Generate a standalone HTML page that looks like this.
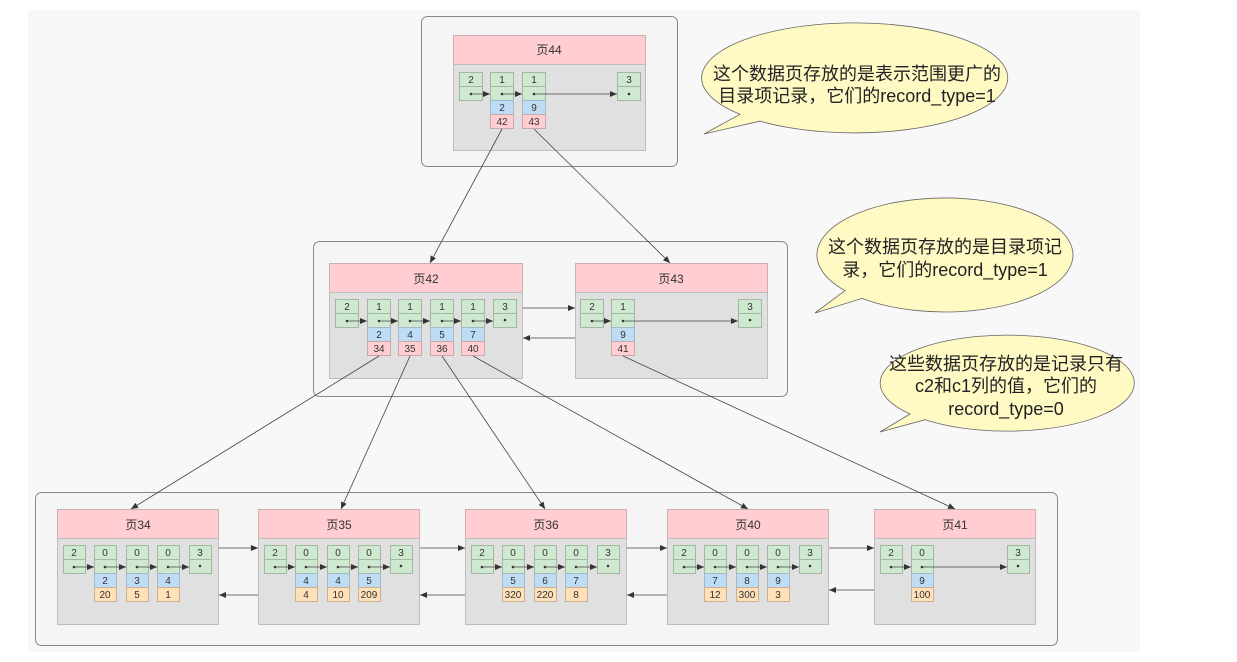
<!DOCTYPE html>
<html><head><meta charset="utf-8"><style>
html,body{margin:0;padding:0;background:#fff;}
svg{display:block;font-family:"Liberation Sans","Noto Sans CJK SC",sans-serif;}
.g{fill:#cfe8d0;stroke:#a3b8a3;stroke-width:1}
.b{fill:#bfdcf5;stroke:#a3b8c8;stroke-width:1}
.p{fill:#ffcdd2;stroke:#c8a8a8;stroke-width:1}
.o{fill:#ffe0b8;stroke:#c8b090;stroke-width:1}
.hd{fill:#ffcdd2;stroke:#c8b0b0;stroke-width:1}
.bd{fill:#e0e0e0;stroke:#bdbdbd;stroke-width:1}
.ct{fill:#f5f5f5;stroke:#888;stroke-width:1}
.t{font-size:10px;fill:#333;text-anchor:middle}
.h{font-size:12px;fill:#333;text-anchor:middle}
.l{stroke:#444;stroke-width:0.8;fill:none}
.bt{font-size:18px;fill:#222;text-anchor:middle}
</style></head><body>
<svg width="1237" height="662" viewBox="0 0 1237 662" xmlns="http://www.w3.org/2000/svg">
<defs>
<marker id="a" markerWidth="8" markerHeight="6" refX="7" refY="3" orient="auto" markerUnits="userSpaceOnUse"><path d="M0,0 L7,3 L0,6 z" fill="#333"/></marker>
</defs>
<rect x="28" y="10" width="1112" height="642" fill="#f8f8f8"/>

<rect class="ct" x="421.5" y="16.5" width="256" height="150" rx="6"/>
<rect class="ct" x="313.5" y="241.5" width="474" height="155" rx="6"/>
<rect class="ct" x="35.5" y="492.5" width="1022" height="153" rx="6"/>

<!-- Page 44 -->
<rect class="hd" x="453.5" y="35.5" width="192" height="29"/><text class="h" x="549" y="54">页44</text>
<rect class="bd" x="453.5" y="64.5" width="192" height="86"/>
<g>
<rect class="g" x="459.5" y="72.5" width="23" height="14"/><rect class="g" x="459.5" y="86.5" width="23" height="14"/><text class="t" x="471" y="83">2</text>
<rect class="g" x="490.5" y="72.5" width="23" height="14"/><rect class="g" x="490.5" y="86.5" width="23" height="14"/><text class="t" x="502" y="83">1</text>
<rect class="b" x="490.5" y="100.5" width="23" height="14"/><text class="t" x="502" y="111">2</text>
<rect class="p" x="490.5" y="114.5" width="23" height="14"/><text class="t" x="502" y="125">42</text>
<rect class="g" x="522.5" y="72.5" width="23" height="14"/><rect class="g" x="522.5" y="86.5" width="23" height="14"/><text class="t" x="534" y="83">1</text>
<rect class="b" x="522.5" y="100.5" width="23" height="14"/><text class="t" x="534" y="111">9</text>
<rect class="p" x="522.5" y="114.5" width="23" height="14"/><text class="t" x="534" y="125">43</text>
<rect class="g" x="617.5" y="72.5" width="23" height="14"/><rect class="g" x="617.5" y="86.5" width="23" height="14"/><text class="t" x="629" y="83">3</text>
<circle cx="471" cy="94" r="1.3" fill="#333"/><circle cx="502" cy="94" r="1.3" fill="#333"/><circle cx="534" cy="94" r="1.3" fill="#333"/><circle cx="629" cy="94" r="1.3" fill="#333"/>
<line class="l" x1="471" y1="94" x2="490" y2="94" marker-end="url(#a)"/>
<line class="l" x1="502" y1="94" x2="522" y2="94" marker-end="url(#a)"/>
<line class="l" x1="534" y1="94" x2="617" y2="94" marker-end="url(#a)"/>
</g>

<!-- Page 42 -->
<rect class="hd" x="329.5" y="263.5" width="193" height="29"/><text class="h" x="426" y="283">页42</text>
<rect class="bd" x="329.5" y="292.5" width="193" height="86"/>
<g>
<rect class="g" x="335.5" y="299.5" width="23" height="14"/><rect class="g" x="335.5" y="313.5" width="23" height="14"/><text class="t" x="347" y="310">2</text>
<rect class="g" x="367.5" y="299.5" width="23" height="14"/><rect class="g" x="367.5" y="313.5" width="23" height="14"/><text class="t" x="379" y="310">1</text>
<rect class="b" x="367.5" y="327.5" width="23" height="14"/><text class="t" x="379" y="338">2</text>
<rect class="p" x="367.5" y="341.5" width="23" height="14"/><text class="t" x="379" y="352">34</text>
<rect class="g" x="398.5" y="299.5" width="23" height="14"/><rect class="g" x="398.5" y="313.5" width="23" height="14"/><text class="t" x="410" y="310">1</text>
<rect class="b" x="398.5" y="327.5" width="23" height="14"/><text class="t" x="410" y="338">4</text>
<rect class="p" x="398.5" y="341.5" width="23" height="14"/><text class="t" x="410" y="352">35</text>
<rect class="g" x="430.5" y="299.5" width="23" height="14"/><rect class="g" x="430.5" y="313.5" width="23" height="14"/><text class="t" x="442" y="310">1</text>
<rect class="b" x="430.5" y="327.5" width="23" height="14"/><text class="t" x="442" y="338">5</text>
<rect class="p" x="430.5" y="341.5" width="23" height="14"/><text class="t" x="442" y="352">36</text>
<rect class="g" x="461.5" y="299.5" width="23" height="14"/><rect class="g" x="461.5" y="313.5" width="23" height="14"/><text class="t" x="473" y="310">1</text>
<rect class="b" x="461.5" y="327.5" width="23" height="14"/><text class="t" x="473" y="338">7</text>
<rect class="p" x="461.5" y="341.5" width="23" height="14"/><text class="t" x="473" y="352">40</text>
<rect class="g" x="493.5" y="299.5" width="23" height="14"/><rect class="g" x="493.5" y="313.5" width="23" height="14"/><text class="t" x="505" y="310">3</text>
<g fill="#333"><circle cx="347" cy="321" r="1.3"/><circle cx="379" cy="321" r="1.3"/><circle cx="410" cy="321" r="1.3"/><circle cx="442" cy="321" r="1.3"/><circle cx="473" cy="321" r="1.3"/><circle cx="505" cy="320" r="1.3"/></g>
<line class="l" x1="347" y1="321" x2="367" y2="321" marker-end="url(#a)"/>
<line class="l" x1="379" y1="321" x2="398" y2="321" marker-end="url(#a)"/>
<line class="l" x1="410" y1="321" x2="430" y2="321" marker-end="url(#a)"/>
<line class="l" x1="442" y1="321" x2="461" y2="321" marker-end="url(#a)"/>
<line class="l" x1="473" y1="321" x2="493" y2="321" marker-end="url(#a)"/>
</g>

<!-- Page 43 -->
<rect class="hd" x="575.5" y="263.5" width="192" height="29"/><text class="h" x="671" y="283">页43</text>
<rect class="bd" x="575.5" y="292.5" width="192" height="86"/>
<rect class="g" x="580.5" y="299.5" width="23" height="14"/><rect class="g" x="580.5" y="313.5" width="23" height="14"/><text class="t" x="592" y="310">2</text>
<rect class="g" x="611.5" y="299.5" width="23" height="14"/><rect class="g" x="611.5" y="313.5" width="23" height="14"/><text class="t" x="623" y="310">1</text>
<rect class="b" x="611.5" y="327.5" width="23" height="14"/><text class="t" x="623" y="338">9</text>
<rect class="p" x="611.5" y="341.5" width="23" height="14"/><text class="t" x="623" y="352">41</text>
<rect class="g" x="738.5" y="299.5" width="23" height="14"/><rect class="g" x="738.5" y="313.5" width="23" height="14"/><text class="t" x="750" y="310">3</text>
<g fill="#333"><circle cx="592" cy="321" r="1.3"/><circle cx="623" cy="321" r="1.3"/><circle cx="750" cy="320" r="1.3"/></g>
<line class="l" x1="592" y1="321" x2="611" y2="321" marker-end="url(#a)"/>
<line class="l" x1="623" y1="321" x2="738" y2="321" marker-end="url(#a)"/>

<line class="l" x1="523" y1="308" x2="575" y2="308" marker-end="url(#a)"/>
<line class="l" x1="575" y1="338" x2="523" y2="338" marker-end="url(#a)"/>

<!-- Page 34 -->
<rect class="hd" x="57.5" y="509.5" width="161" height="29"/><text class="h" x="138" y="529">页34</text>
<rect class="bd" x="57.5" y="538.5" width="161" height="86"/>
<rect class="g" x="63.5" y="545.5" width="22" height="14"/><rect class="g" x="63.5" y="559.5" width="22" height="14"/><text class="t" x="74" y="556">2</text>
<rect class="g" x="94.5" y="545.5" width="22" height="14"/><rect class="g" x="94.5" y="559.5" width="22" height="14"/><text class="t" x="105" y="556">0</text>
<rect class="b" x="94.5" y="573.5" width="22" height="14"/><text class="t" x="105" y="584">2</text>
<rect class="o" x="94.5" y="587.5" width="22" height="14"/><text class="t" x="105" y="598">20</text>
<rect class="g" x="126.5" y="545.5" width="22" height="14"/><rect class="g" x="126.5" y="559.5" width="22" height="14"/><text class="t" x="137" y="556">0</text>
<rect class="b" x="126.5" y="573.5" width="22" height="14"/><text class="t" x="137" y="584">3</text>
<rect class="o" x="126.5" y="587.5" width="22" height="14"/><text class="t" x="137" y="598">5</text>
<rect class="g" x="157.5" y="545.5" width="22" height="14"/><rect class="g" x="157.5" y="559.5" width="22" height="14"/><text class="t" x="168" y="556">0</text>
<rect class="b" x="157.5" y="573.5" width="22" height="14"/><text class="t" x="168" y="584">4</text>
<rect class="o" x="157.5" y="587.5" width="22" height="14"/><text class="t" x="168" y="598">1</text>
<rect class="g" x="189.5" y="545.5" width="22" height="14"/><rect class="g" x="189.5" y="559.5" width="22" height="14"/><text class="t" x="200" y="556">3</text>
<g fill="#333"><circle cx="74" cy="567" r="1.3"/><circle cx="105" cy="567" r="1.3"/><circle cx="137" cy="567" r="1.3"/><circle cx="168" cy="567" r="1.3"/><circle cx="200" cy="566" r="1.3"/></g>
<line class="l" x1="74" y1="567" x2="94" y2="567" marker-end="url(#a)"/><line class="l" x1="105" y1="567" x2="126" y2="567" marker-end="url(#a)"/><line class="l" x1="137" y1="567" x2="157" y2="567" marker-end="url(#a)"/><line class="l" x1="168" y1="567" x2="189" y2="567" marker-end="url(#a)"/>

<!-- Page 35 -->
<rect class="hd" x="258.5" y="509.5" width="161" height="29"/><text class="h" x="339" y="529">页35</text>
<rect class="bd" x="258.5" y="538.5" width="161" height="86"/>
<rect class="g" x="264.5" y="545.5" width="22" height="14"/><rect class="g" x="264.5" y="559.5" width="22" height="14"/><text class="t" x="275" y="556">2</text>
<rect class="g" x="295.5" y="545.5" width="22" height="14"/><rect class="g" x="295.5" y="559.5" width="22" height="14"/><text class="t" x="306" y="556">0</text>
<rect class="b" x="295.5" y="573.5" width="22" height="14"/><text class="t" x="306" y="584">4</text>
<rect class="o" x="295.5" y="587.5" width="22" height="14"/><text class="t" x="306" y="598">4</text>
<rect class="g" x="327.5" y="545.5" width="22" height="14"/><rect class="g" x="327.5" y="559.5" width="22" height="14"/><text class="t" x="338" y="556">0</text>
<rect class="b" x="327.5" y="573.5" width="22" height="14"/><text class="t" x="338" y="584">4</text>
<rect class="o" x="327.5" y="587.5" width="22" height="14"/><text class="t" x="338" y="598">10</text>
<rect class="g" x="358.5" y="545.5" width="22" height="14"/><rect class="g" x="358.5" y="559.5" width="22" height="14"/><text class="t" x="369" y="556">0</text>
<rect class="b" x="358.5" y="573.5" width="22" height="14"/><text class="t" x="369" y="584">5</text>
<rect class="o" x="358.5" y="587.5" width="22" height="14"/><text class="t" x="369" y="598">209</text>
<rect class="g" x="390.5" y="545.5" width="22" height="14"/><rect class="g" x="390.5" y="559.5" width="22" height="14"/><text class="t" x="401" y="556">3</text>
<g fill="#333"><circle cx="275" cy="567" r="1.3"/><circle cx="306" cy="567" r="1.3"/><circle cx="338" cy="567" r="1.3"/><circle cx="369" cy="567" r="1.3"/><circle cx="401" cy="566" r="1.3"/></g>
<line class="l" x1="275" y1="567" x2="295" y2="567" marker-end="url(#a)"/><line class="l" x1="306" y1="567" x2="327" y2="567" marker-end="url(#a)"/><line class="l" x1="338" y1="567" x2="358" y2="567" marker-end="url(#a)"/><line class="l" x1="369" y1="567" x2="390" y2="567" marker-end="url(#a)"/>

<!-- Page 36 -->
<rect class="hd" x="465.5" y="509.5" width="161" height="29"/><text class="h" x="546" y="529">页36</text>
<rect class="bd" x="465.5" y="538.5" width="161" height="86"/>
<rect class="g" x="471.5" y="545.5" width="22" height="14"/><rect class="g" x="471.5" y="559.5" width="22" height="14"/><text class="t" x="482" y="556">2</text>
<rect class="g" x="502.5" y="545.5" width="22" height="14"/><rect class="g" x="502.5" y="559.5" width="22" height="14"/><text class="t" x="513" y="556">0</text>
<rect class="b" x="502.5" y="573.5" width="22" height="14"/><text class="t" x="513" y="584">5</text>
<rect class="o" x="502.5" y="587.5" width="22" height="14"/><text class="t" x="513" y="598">320</text>
<rect class="g" x="534.5" y="545.5" width="22" height="14"/><rect class="g" x="534.5" y="559.5" width="22" height="14"/><text class="t" x="545" y="556">0</text>
<rect class="b" x="534.5" y="573.5" width="22" height="14"/><text class="t" x="545" y="584">6</text>
<rect class="o" x="534.5" y="587.5" width="22" height="14"/><text class="t" x="545" y="598">220</text>
<rect class="g" x="565.5" y="545.5" width="22" height="14"/><rect class="g" x="565.5" y="559.5" width="22" height="14"/><text class="t" x="576" y="556">0</text>
<rect class="b" x="565.5" y="573.5" width="22" height="14"/><text class="t" x="576" y="584">7</text>
<rect class="o" x="565.5" y="587.5" width="22" height="14"/><text class="t" x="576" y="598">8</text>
<rect class="g" x="597.5" y="545.5" width="22" height="14"/><rect class="g" x="597.5" y="559.5" width="22" height="14"/><text class="t" x="608" y="556">3</text>
<g fill="#333"><circle cx="482" cy="567" r="1.3"/><circle cx="513" cy="567" r="1.3"/><circle cx="545" cy="567" r="1.3"/><circle cx="576" cy="567" r="1.3"/><circle cx="608" cy="566" r="1.3"/></g>
<line class="l" x1="482" y1="567" x2="502" y2="567" marker-end="url(#a)"/><line class="l" x1="513" y1="567" x2="534" y2="567" marker-end="url(#a)"/><line class="l" x1="545" y1="567" x2="565" y2="567" marker-end="url(#a)"/><line class="l" x1="576" y1="567" x2="597" y2="567" marker-end="url(#a)"/>

<!-- Page 40 -->
<rect class="hd" x="667.5" y="509.5" width="161" height="29"/><text class="h" x="748" y="529">页40</text>
<rect class="bd" x="667.5" y="538.5" width="161" height="86"/>
<rect class="g" x="673.5" y="545.5" width="22" height="14"/><rect class="g" x="673.5" y="559.5" width="22" height="14"/><text class="t" x="684" y="556">2</text>
<rect class="g" x="704.5" y="545.5" width="22" height="14"/><rect class="g" x="704.5" y="559.5" width="22" height="14"/><text class="t" x="715" y="556">0</text>
<rect class="b" x="704.5" y="573.5" width="22" height="14"/><text class="t" x="715" y="584">7</text>
<rect class="o" x="704.5" y="587.5" width="22" height="14"/><text class="t" x="715" y="598">12</text>
<rect class="g" x="736.5" y="545.5" width="22" height="14"/><rect class="g" x="736.5" y="559.5" width="22" height="14"/><text class="t" x="747" y="556">0</text>
<rect class="b" x="736.5" y="573.5" width="22" height="14"/><text class="t" x="747" y="584">8</text>
<rect class="o" x="736.5" y="587.5" width="22" height="14"/><text class="t" x="747" y="598">300</text>
<rect class="g" x="767.5" y="545.5" width="22" height="14"/><rect class="g" x="767.5" y="559.5" width="22" height="14"/><text class="t" x="778" y="556">0</text>
<rect class="b" x="767.5" y="573.5" width="22" height="14"/><text class="t" x="778" y="584">9</text>
<rect class="o" x="767.5" y="587.5" width="22" height="14"/><text class="t" x="778" y="598">3</text>
<rect class="g" x="799.5" y="545.5" width="22" height="14"/><rect class="g" x="799.5" y="559.5" width="22" height="14"/><text class="t" x="810" y="556">3</text>
<g fill="#333"><circle cx="684" cy="567" r="1.3"/><circle cx="715" cy="567" r="1.3"/><circle cx="747" cy="567" r="1.3"/><circle cx="778" cy="567" r="1.3"/><circle cx="810" cy="566" r="1.3"/></g>
<line class="l" x1="684" y1="567" x2="704" y2="567" marker-end="url(#a)"/><line class="l" x1="715" y1="567" x2="736" y2="567" marker-end="url(#a)"/><line class="l" x1="747" y1="567" x2="767" y2="567" marker-end="url(#a)"/><line class="l" x1="778" y1="567" x2="799" y2="567" marker-end="url(#a)"/>

<!-- Page 41 -->
<rect class="hd" x="874.5" y="509.5" width="161" height="29"/><text class="h" x="955" y="529">页41</text>
<rect class="bd" x="874.5" y="538.5" width="161" height="86"/>
<rect class="g" x="880.5" y="545.5" width="22" height="14"/><rect class="g" x="880.5" y="559.5" width="22" height="14"/><text class="t" x="891" y="556">2</text>
<rect class="g" x="911.5" y="545.5" width="22" height="14"/><rect class="g" x="911.5" y="559.5" width="22" height="14"/><text class="t" x="922" y="556">0</text>
<rect class="b" x="911.5" y="573.5" width="22" height="14"/><text class="t" x="922" y="584">9</text>
<rect class="o" x="911.5" y="587.5" width="22" height="14"/><text class="t" x="922" y="598">100</text>
<rect class="g" x="1007.5" y="545.5" width="22" height="14"/><rect class="g" x="1007.5" y="559.5" width="22" height="14"/><text class="t" x="1018" y="556">3</text>
<g fill="#333"><circle cx="891" cy="567" r="1.3"/><circle cx="922" cy="567" r="1.3"/><circle cx="1018" cy="566" r="1.3"/></g>
<line class="l" x1="891" y1="567" x2="911" y2="567" marker-end="url(#a)"/><line class="l" x1="922" y1="567" x2="1007" y2="567" marker-end="url(#a)"/>

<line class="l" x1="219" y1="548" x2="258" y2="548" marker-end="url(#a)"/>
<line class="l" x1="258" y1="595" x2="219" y2="595" marker-end="url(#a)"/>
<line class="l" x1="420" y1="548" x2="465" y2="548" marker-end="url(#a)"/>
<line class="l" x1="465" y1="595" x2="420" y2="595" marker-end="url(#a)"/>
<line class="l" x1="627" y1="548" x2="667" y2="548" marker-end="url(#a)"/>
<line class="l" x1="667" y1="595" x2="627" y2="595" marker-end="url(#a)"/>
<line class="l" x1="829" y1="548" x2="874" y2="548" marker-end="url(#a)"/>
<line class="l" x1="874" y1="590" x2="829" y2="590" marker-end="url(#a)"/>

<line class="l" x1="502" y1="129" x2="430" y2="263" marker-end="url(#a)"/>
<line class="l" x1="534" y1="129" x2="670" y2="263" marker-end="url(#a)"/>
<line class="l" x1="379" y1="356" x2="131" y2="509" marker-end="url(#a)"/>
<line class="l" x1="410" y1="356" x2="341" y2="509" marker-end="url(#a)"/>
<line class="l" x1="442" y1="356" x2="545" y2="509" marker-end="url(#a)"/>
<line class="l" x1="473" y1="356" x2="748" y2="509" marker-end="url(#a)"/>
<line class="l" x1="623" y1="356" x2="955" y2="509" marker-end="url(#a)"/>

<!-- bubbles -->
<path d="M740,114.3 A153,55 0 1,1 760,121.1 L704,134 Z" fill="#fff9c4" stroke="#666" stroke-width="0.8"/>
<text class="bt" x="857" y="80">这个数据页存放的是表示范围更广的</text>
<text class="bt" x="857" y="102">目录项记录，它们的record_type=1</text>
<path d="M845,290.6 A128,57 0 1,1 862,298.4 L815,313 Z" fill="#fff9c4" stroke="#666" stroke-width="0.8"/>
<text class="bt" x="945" y="253">这个数据页存放的是目录项记</text>
<text class="bt" x="945" y="276">录，它们的record_type=1</text>
<path d="M910,414 A127,48 0 1,1 925,419.7 L880,432 Z" fill="#fff9c4" stroke="#666" stroke-width="0.8"/>
<text class="bt" x="1006" y="370">这些数据页存放的是记录只有</text>
<text class="bt" x="1006" y="392">c2和c1列的值，它们的</text>
<text class="bt" x="1006" y="415">record_type=0</text>
</svg>
</body></html>
